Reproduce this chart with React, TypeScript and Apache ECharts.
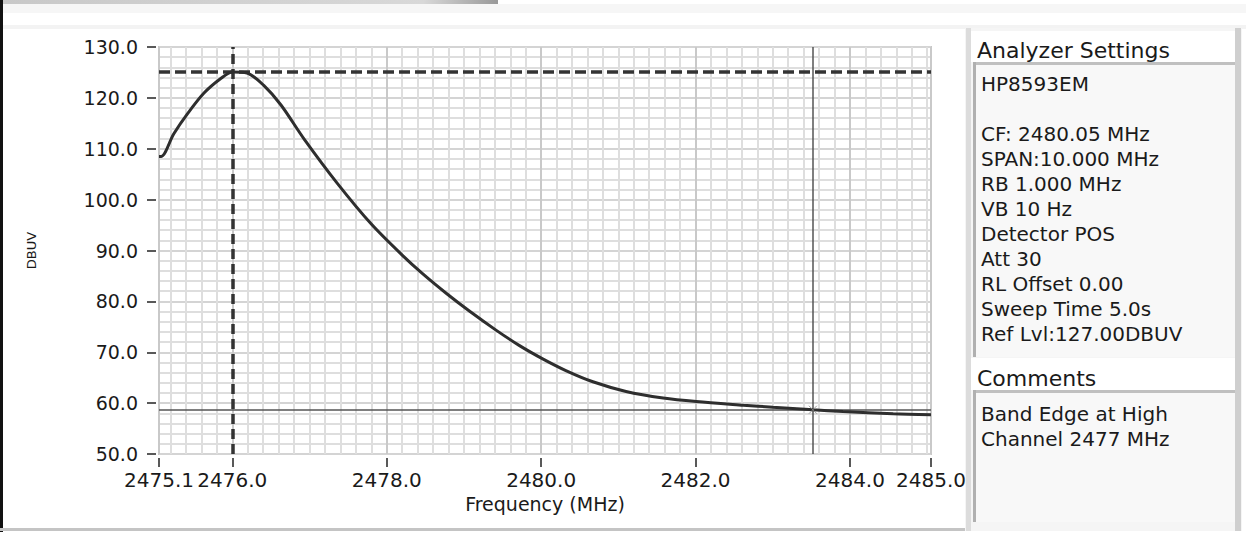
import React, { useEffect, useRef } from "react";
import * as echarts from "echarts";

// ---- data ----
const freqMHz = [
  2475.05, 2475.08, 2475.24, 2475.42, 2475.63, 2475.85, 2476.0, 2476.19, 2476.41, 2476.63,
  2476.93, 2477.36, 2477.8, 2478.2, 2478.46, 2478.77, 2479.07, 2479.42, 2479.72, 2480.02,
  2480.32, 2480.67, 2481.1, 2481.58, 2482.01, 2482.62, 2483.0, 2483.52, 2483.91, 2484.56, 2485.05,
];
const levelDBUV = [
  108.5, 108.5, 112.9, 116.9, 120.9, 123.8, 125.1, 124.9, 122.4, 118.6,
  111.9, 103.2, 95.2, 89.1, 85.5, 81.6, 78.1, 74.3, 71.3, 68.7,
  66.4, 64.2, 62.3, 61.0, 60.3, 59.6, 59.2, 58.7, 58.35, 57.9, 57.7,
];
const xMin = 2475.05;
const xMax = 2485.05;
const xTickValues = [2475.05, 2476, 2478, 2480, 2482, 2484, 2485.05];
const xTickLabels = ["2475.1", "2476.0", "2478.0", "2480.0", "2482.0", "2484.0", "2485.0"];
const yMin = 50;
const yMax = 130;
const yStep = 10;
const peakCursor = { freq: 2476.0, level: 125.1 };
const edgeCursor = { freq: 2483.52, level: 58.7 };
const settingsLines = [
  "HP8593EM",
  "",
  "CF: 2480.05 MHz",
  "SPAN:10.000 MHz",
  "RB 1.000 MHz",
  "VB 10 Hz",
  "Detector POS",
  "Att 30",
  "RL Offset 0.00",
  "Sweep Time 5.0s",
  "Ref Lvl:127.00DBUV",
];
const commentLines = ["Band Edge at High", "Channel 2477 MHz"];

const FONT = "DejaVu Sans";

export default function App() {
  const ref = useRef<HTMLDivElement>(null);
  useEffect(() => {
    document.body.style.margin = "0";
    const chart = echarts.init(ref.current!, null, { renderer: "svg" });

    // minor vertical grid positions (every 0.2 MHz)
    const minorX: number[] = [];
    for (let k = 1; k <= 50; k++) minorX.push(Number((2475 + 0.2 * k).toFixed(1)));

    const series: any[] = [
      {
        type: "line",
        data: freqMHz.map((f, i) => [f, levelDBUV[i]]),
        xAxisIndex: 0,
        showSymbol: false,
        symbol: "none",
        smooth: 0.3,
        lineStyle: { color: "#2e2e2e", width: 3 },
        z: 5,
        markLine: {
          silent: true,
          symbol: ["none", "none"],
          label: { show: false },
          animation: false,
          data: [
            { xAxis: peakCursor.freq, lineStyle: { color: "#333", width: 3.5, type: [10, 5] } },
            { yAxis: peakCursor.level, lineStyle: { color: "#333", width: 3.5, type: [11, 5] } },
            { xAxis: edgeCursor.freq, lineStyle: { color: "#555", width: 1.5, type: "solid" } },
            { yAxis: edgeCursor.level, lineStyle: { color: "#555", width: 1.5, type: "solid" } },
          ],
        },
      },
      {
        type: "scatter",
        data: [[edgeCursor.freq, edgeCursor.level]],
        symbol: "path://M0 0L10 10M10 0L0 10",
        symbolSize: 8,
        itemStyle: { color: "none", borderColor: "#888", borderWidth: 1 },
        z: 6,
      },
    ];

    const graphics: any[] = [
      // top strip
      { type: "rect", shape: { x: 0, y: 4, width: 1246, height: 9 }, style: { fill: "#f6f6f6" }, silent: true },
      { type: "rect", shape: { x: 0, y: 25, width: 1246, height: 4 }, style: { fill: "#f3f3f3" }, silent: true },
      {
        type: "rect",
        shape: { x: 0, y: 0, width: 498, height: 4 },
        style: {
          fill: new echarts.graphic.LinearGradient(0, 0, 1, 0, [
            { offset: 0, color: "#c8c8c8" },
            { offset: 0.85, color: "#d8d8d8" },
            { offset: 1, color: "#999" },
          ]),
        },
        silent: true,
      },
      // left black edge and bottom edge
      { type: "rect", shape: { x: 0, y: 0, width: 3, height: 532 }, style: { fill: "#111" }, silent: true },
      { type: "rect", shape: { x: 0, y: 528, width: 1242, height: 3 }, style: { fill: "#c4c4c4" }, silent: true },
      // right panel
      { type: "rect", shape: { x: 965, y: 28, width: 277, height: 503 }, style: { fill: "#f5f5f5" }, silent: true },
      { type: "rect", shape: { x: 966, y: 28, width: 5, height: 503 }, style: { fill: "#dcdcdc" }, silent: true },
      { type: "rect", shape: { x: 1235, y: 28, width: 6, height: 503 }, style: { fill: "#cfcfcf" }, silent: true },
      // settings header
      { type: "rect", shape: { x: 971, y: 31, width: 264, height: 31 }, style: { fill: "#ffffff" }, silent: true },
      // settings box
      { type: "rect", shape: { x: 973, y: 62, width: 262, height: 295 }, style: { fill: "#f8f8f8" }, silent: true },
      { type: "rect", shape: { x: 973, y: 62, width: 262, height: 3 }, style: { fill: "#c0c0c0" }, silent: true },
      { type: "rect", shape: { x: 973, y: 62, width: 3, height: 295 }, style: { fill: "#b0b0b0" }, silent: true },
      // comments header
      { type: "rect", shape: { x: 971, y: 358, width: 264, height: 32 }, style: { fill: "#ffffff" }, silent: true },
      // comments box
      { type: "rect", shape: { x: 973, y: 390, width: 262, height: 132 }, style: { fill: "#f8f8f8" }, silent: true },
      { type: "rect", shape: { x: 973, y: 390, width: 262, height: 3 }, style: { fill: "#c0c0c0" }, silent: true },
      { type: "rect", shape: { x: 973, y: 390, width: 3, height: 132 }, style: { fill: "#b0b0b0" }, silent: true },
      // texts
      {
        type: "text",
        x: 977,
        y: 50,
        style: { text: "Analyzer Settings", font: `22px '${FONT}'`, fill: "#1a1a1a", textVerticalAlign: "middle" },
        silent: true,
      },
      {
        type: "text",
        x: 981,
        y: 71,
        style: {
          text: settingsLines.join("\n"),
          font: `20px '${FONT}'`,
          lineHeight: 25,
          fill: "#1a1a1a",
          textVerticalAlign: "top",
        },
        silent: true,
      },
      {
        type: "text",
        x: 977,
        y: 378,
        style: { text: "Comments", font: `22px '${FONT}'`, fill: "#1a1a1a", textVerticalAlign: "middle" },
        silent: true,
      },
      {
        type: "text",
        x: 981,
        y: 401,
        style: {
          text: commentLines.join("\n"),
          font: `20px '${FONT}'`,
          lineHeight: 25,
          fill: "#1a1a1a",
          textVerticalAlign: "top",
        },
        silent: true,
      },
    ];

    chart.setOption({
      animation: false,
      backgroundColor: "#ffffff",
      textStyle: { fontFamily: FONT },
      grid: {
        left: 159,
        right: 315,
        top: 47,
        bottom: 80,
        show: true,
        backgroundColor: "#ffffff",
        borderColor: "#9a9a9a",
        borderWidth: 1.5,
        containLabel: false,
        outerBoundsMode: "none",
      },
      xAxis: [
        {
          type: "value",
          min: xMin,
          max: xMax,
          offset: 4,
          name: "Frequency (MHz)",
          nameLocation: "middle",
          nameGap: 36,
          nameMoveOverlap: false,
          nameTextStyle: { fontSize: 19, lineHeight: 19, color: "#1a1a1a", fontFamily: FONT },
          axisLine: { show: false },
          axisTick: {
            show: true,
            length: 9,
            lineStyle: { color: "#222", width: 1.5 },
            customValues: xTickValues,
          },
          axisLabel: {
            show: true,
            fontSize: 20,
            lineHeight: 20,
            color: "#1a1a1a",
            fontFamily: FONT,
            margin: 12,
            customValues: xTickValues,
            showMinLabel: true,
            showMaxLabel: true,
            formatter: (v: number) => {
              const i = xTickValues.findIndex((t) => Math.abs(t - v) < 1e-6);
              return i >= 0 ? xTickLabels[i] : "";
            },
          },
          splitLine: { show: true, lineStyle: { color: "#c9c9c9", width: 2 } },
          z: 2,
        },
        {
          type: "value",
          min: xMin,
          max: xMax,
          position: "bottom",
          axisLine: { show: false },
          axisTick: { show: false, customValues: minorX },
          axisLabel: { show: false, customValues: minorX },
          splitLine: { show: true, lineStyle: { color: "#dedede", width: 2 } },
          z: 1,
        },
      ],
      yAxis: {
        type: "value",
        min: yMin,
        max: yMax,
        interval: yStep,
        offset: 3,
        name: "DBUV",
        nameLocation: "middle",
        nameRotate: 90,
        nameGap: 118,
        nameMoveOverlap: false,
        nameTextStyle: { fontSize: 13, color: "#1a1a1a", fontFamily: FONT },
        axisLine: { show: false },
        axisTick: { show: true, length: 9, lineStyle: { color: "#222", width: 1.5 } },
        axisLabel: {
          fontSize: 19,
          color: "#1a1a1a",
          fontFamily: FONT,
          margin: 18,
          formatter: (v: number) => v.toFixed(1),
        },
        splitLine: { show: true, lineStyle: { color: "#d4d4d4", width: 2 } },
        minorTick: { show: false, splitNumber: 5 },
        minorSplitLine: { show: true, lineStyle: { color: "#dedede", width: 2 } },
      },
      series,
      graphic: graphics,
    });
    return () => chart.dispose();
  }, []);
  return (
    <div
      ref={ref}
      style={{ position: "fixed", left: 0, top: 0, width: 1246, height: 534 }}
    />
  );
}
